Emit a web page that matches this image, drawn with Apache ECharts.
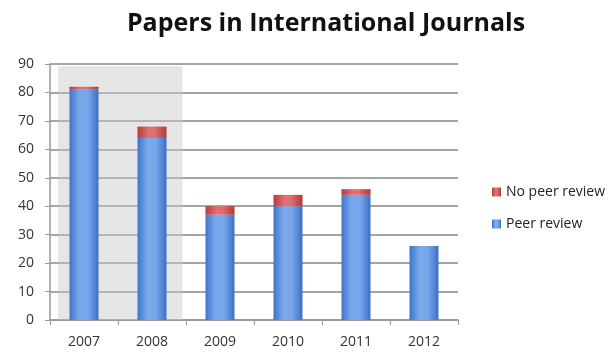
<!DOCTYPE html>
<html><head><meta charset="utf-8">
<script src="https://cdn.jsdelivr.net/npm/echarts@6/dist/echarts.min.js"></script>
<style>html,body{margin:0;padding:0;background:#fff}#c{width:615px;height:352px}</style>
</head><body><div id="c"></div>
<script>
const categories = ['2007','2008','2009','2010','2011','2012'];
const peerReview = [81, 64, 37, 40, 44, 26];
const noPeerReview = [1, 4, 3, 4, 2, 0];
const yTicks = [0,10,20,30,40,50,60,70,80,90];
const shadeRange = [0.12, 1.95]; // in category-index units (2007..2008)

const chart = echarts.init(document.getElementById('c'));
const blueGrad = new echarts.graphic.LinearGradient(0,0,1,0,[
  {offset:0,color:'#3f74c9'},{offset:0.35,color:'#7aa8ec'},{offset:0.65,color:'#77a5ea'},{offset:1,color:'#3c6fc2'}]);
const redGrad = new echarts.graphic.LinearGradient(0,0,1,0,[
  {offset:0,color:'#b8393a'},{offset:0.4,color:'#e07272'},{offset:0.6,color:'#de6e6e'},{offset:1,color:'#b53636'}]);
chart.setOption({
  animation:false,
  title:{text:'Papers in International Journals',left:321,top:6,textAlign:'center',
    textStyle:{fontFamily:'Open Sans',fontWeight:'bold',fontSize:25,color:'#111'}},
  grid:{left:50,right:157,top:64,bottom:32},
  legend:{orient:'vertical',left:487,top:180,itemWidth:9,itemHeight:9,itemGap:18,
    icon:'rect',itemStyle:{borderWidth:0},textStyle:{fontFamily:'Open Sans',fontSize:14,color:'#222'},
    data:['No peer review','Peer review']},
  xAxis:[{type:'category',data:categories,
    axisLine:{lineStyle:{color:'#999',width:1.5}},
    axisTick:{show:true,length:5,lineStyle:{color:'#999'}},
    axisLabel:{fontFamily:'Open Sans',fontSize:14,color:'#333',margin:15}},
    {type:'value',min:0,max:6,show:false}],
  yAxis:{type:'value',min:yTicks[0],max:yTicks[yTicks.length-1],interval:10,
    axisLine:{show:true,lineStyle:{color:'#999',width:1.5}},
    axisTick:{show:true,length:5,lineStyle:{color:'#999'}},
    splitLine:{lineStyle:{color:'#a5a5a5',width:2}},
    axisLabel:{fontFamily:'Open Sans',fontSize:14,color:'#333',margin:16}},
  series:[
    {type:'line',xAxisIndex:1,data:[],silent:true,
     markArea:{silent:true,itemStyle:{color:'rgba(200,200,200,0.45)'},
       data:[[{xAxis:shadeRange[0],yAxis:0},{xAxis:shadeRange[1],yAxis:89.2}]]}},
    {name:'Peer review',type:'bar',stack:'a',data:peerReview,barWidth:29,z:3,
     itemStyle:{color:blueGrad}},
    {name:'No peer review',type:'bar',stack:'a',data:noPeerReview,barWidth:29,z:3,
     itemStyle:{color:redGrad}}
  ]
});
</script></body></html>
